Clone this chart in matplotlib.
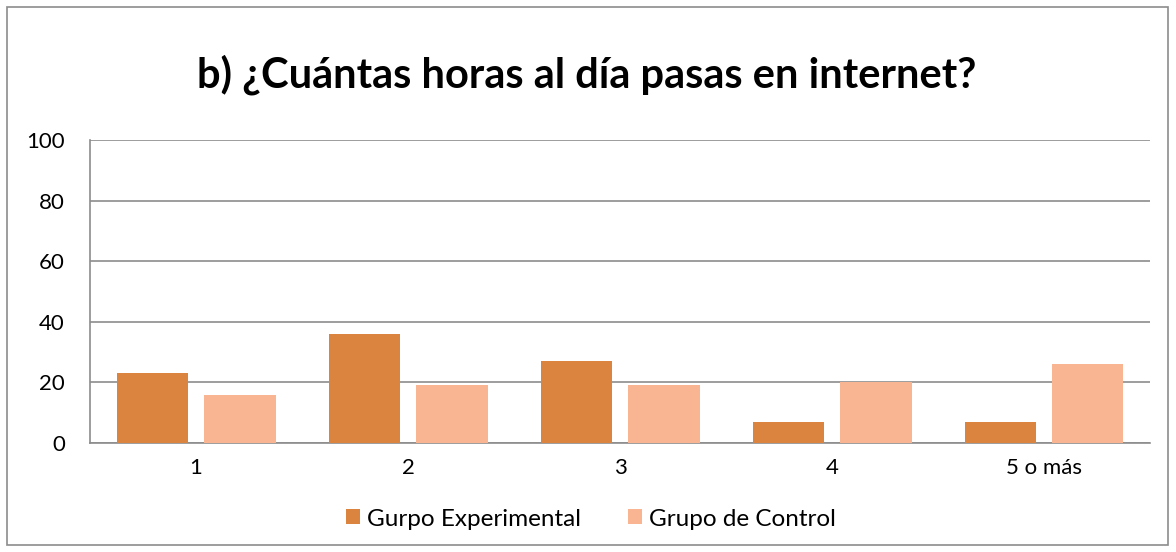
import matplotlib.pyplot as plt
import numpy as np

categories = ["1", "2", "3", "4", "5 o más"]
experimental = [23, 36, 27, 7, 7]
control = [16, 19, 19, 20, 26]
series_names = ["Gurpo Experimental", "Grupo de Control"]

plt.rcParams['font.family'] = ['Lato', 'DejaVu Sans']

fig = plt.figure(figsize=(11.76, 5.52), dpi=100)
ax = fig.add_axes([90 / 1176, 1 - 443 / 552, 1060 / 1176, 303 / 552])

x = np.arange(len(categories))
w = 0.335
ax.bar(x - 0.2075, experimental, w, color="#DA843F", label=series_names[0], zorder=3)
ax.bar(x + 0.2075, control, w, color="#F9B591", label=series_names[1], zorder=3)

ax.set_xlim(-0.5, len(categories) - 0.5)
ax.set_ylim(0, 100)
ax.set_yticks(range(0, 101, 20))
ax.set_xticks(x)
ax.set_xticklabels(categories)
ax.tick_params(axis="both", length=0, labelsize=16, colors="black")
ax.tick_params(axis="x", pad=11)
ax.tick_params(axis="y", pad=18)
ax.yaxis.grid(True, color="#8C8C8C", linewidth=1.2, zorder=0)
for side in ["top", "right"]:
    ax.spines[side].set_visible(False)
for side in ["left", "bottom"]:
    ax.spines[side].set_color("#8C8C8C")
    ax.spines[side].set_linewidth(1.2)

fig.text(587 / 1176, 1 - 75 / 552, "b) ¿Cuántas horas al día pasas en internet?",
         ha="center", va="center", fontsize=30, fontweight="bold")

ax.legend(loc="center", bbox_to_anchor=(591 / 1176, 1 - 519 / 552),
          bbox_transform=fig.transFigure, ncol=2, frameon=False,
          fontsize=17.5, handlelength=0.58, handleheight=0.58, handletextpad=0.29,
          columnspacing=1.9)

border = plt.Rectangle((7 / 1176, 7 / 552), 1161 / 1176, 538 / 552,
                       transform=fig.transFigure, fill=False,
                       edgecolor="#8C8C8C", linewidth=1.2)
fig.patches.append(border)

fig.savefig("out.png", dpi=100)
